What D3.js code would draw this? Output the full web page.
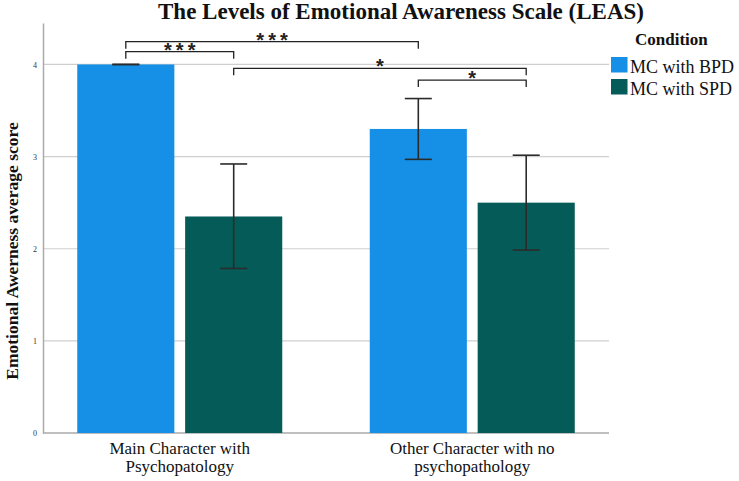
<!DOCTYPE html>
<html><head><meta charset="utf-8">
<script src="https://cdn.jsdelivr.net/npm/d3@7"></script>
<style>body{margin:0;background:#fff}svg{display:block}</style>
</head><body>
<svg id="c" width="739" height="481"></svg>
<script>
const groups = ["Main Character with|Psychopatology", "Other Character with no|psychopathology"];
const conditions = ["MC with BPD", "MC with SPD"];
const colors = ["#1590e6", "#045b58"];
const means = [[4.00, 2.35], [3.30, 2.50]];
const errLow = [[4.00, 1.786], [2.97, 1.985]];
const errHigh = [[4.00, 2.92], [3.63, 3.015]];
const yTicks = [0, 1, 2, 3, 4];
// significance brackets: [groupIdx, condIdx] from -> to, level (value), label
const sigFrom = [[0,0],[0,0],[0,1],[1,0]];
const sigTo   = [[1,0],[0,1],[1,1],[1,1]];
const sigLevel = [4.247, 4.139, 3.958, 3.83];
const sigLabel = ["***", "***", "*", "*"];

const svg = d3.select("#c");
const L = 43, R = 609, T = 23, B = 433;
const y = d3.scaleLinear().domain([0, 4.45]).range([B, T]);
const gx = d3.scalePoint().domain(d3.range(groups.length)).range([L, R]).padding(0.4675);
const bx = d3.scaleBand().domain(d3.range(conditions.length)).range([-102.5, 102.5]).paddingInner(0.1);
const serif = "'Times New Roman', 'Liberation Serif', Tinos, 'DejaVu Serif', serif";

// gridlines
svg.append("g").selectAll("line").data(yTicks.filter(d => d > 0)).join("line")
  .attr("x1", L).attr("x2", R).attr("y1", d => y(d)).attr("y2", d => y(d))
  .attr("stroke", "#cfcfcf").attr("stroke-width", 1.2);

// axes
const ya = svg.append("g").attr("transform", `translate(${L},0)`)
  .call(d3.axisLeft(y).tickValues(yTicks).tickSize(0).tickPadding(6).tickFormat(d3.format("d")));
ya.select(".domain").attr("stroke", "#aaa").attr("stroke-width", 1.5);
ya.selectAll("text").style("font-family", serif).attr("font-size", 8).attr("fill", "#333");
svg.append("line").attr("x1", L).attr("x2", R).attr("y1", y(0)).attr("y2", y(0))
  .attr("stroke", "#aaa").attr("stroke-width", 1.5);

// bars
const rows = [];
groups.forEach((g, gi) => conditions.forEach((c, ci) => rows.push({gi, ci})));
svg.append("g").selectAll("rect").data(rows).join("rect")
  .attr("x", d => gx(d.gi) + bx(d.ci)).attr("width", bx.bandwidth())
  .attr("y", d => y(means[d.gi][d.ci])).attr("height", d => y(0) - y(means[d.gi][d.ci]))
  .attr("fill", d => colors[d.ci]);

// error bars
const eg = svg.append("g").attr("stroke", "#2b2b2b").attr("stroke-width", 1.6);
rows.forEach(d => {
  const cx = gx(d.gi) + bx(d.ci) + bx.bandwidth() / 2;
  const lo = y(errLow[d.gi][d.ci]), hi = y(errHigh[d.gi][d.ci]);
  eg.append("line").attr("x1", cx).attr("x2", cx).attr("y1", lo).attr("y2", hi);
  eg.append("line").attr("x1", cx - 13.5).attr("x2", cx + 13.5).attr("y1", lo).attr("y2", lo);
  eg.append("line").attr("x1", cx - 13.5).attr("x2", cx + 13.5).attr("y1", hi).attr("y2", hi);
});

// significance brackets
const sg = svg.append("g");
sigLabel.forEach((lab, i) => {
  const x1 = gx(sigFrom[i][0]) + bx(sigFrom[i][1]) + bx.bandwidth() / 2;
  const x2 = gx(sigTo[i][0]) + bx(sigTo[i][1]) + bx.bandwidth() / 2;
  const yy = y(sigLevel[i]);
  sg.append("path").attr("d", `M${x1},${yy + 7}V${yy}H${x2}V${yy + 7}`)
    .attr("fill", "none").attr("stroke", "#222").attr("stroke-width", 1.3);
  sg.append("text").attr("x", (x1 + x2) / 2 + (lab.length > 1 ? 2 : 0)).attr("y", yy + 5)
    .attr("text-anchor", "middle")
    .style("font-family", "'Liberation Sans',Arial,sans-serif").attr("font-size", 20)
    .attr("font-weight", "bold")
    .style("letter-spacing", lab.length > 1 ? "4px" : "0px")
    .attr("fill", "#222").text(lab);
});

// title
svg.append("text").attr("x", 401).attr("y", 19).attr("text-anchor", "middle")
  .style("font-family", serif).attr("font-weight", "bold").attr("font-size", 23).attr("fill", "#111")
  .text("The Levels of Emotional Awareness Scale (LEAS)");

// y label
svg.append("text").attr("transform", `translate(18,251) rotate(-90)`).attr("text-anchor", "middle")
  .style("font-family", serif).attr("font-weight", "bold").attr("font-size", 17.5).attr("fill", "#111")
  .text("Emotional Awerness average score");

// x labels
groups.forEach((g, gi) => {
  g.split("|").forEach((ln, k) => svg.append("text").attr("text-anchor", "middle")
    .style("font-family", serif).attr("font-size", 17).attr("fill", "#111")
    .attr("x", gx(gi)).attr("y", 454 + k * 18).text(ln));
});

// legend
svg.append("text").attr("x", 635).attr("y", 45).style("font-family", serif).attr("font-weight", "bold")
  .attr("font-size", 17).attr("fill", "#111").text("Condition");
conditions.forEach((c, i) => {
  svg.append("rect").attr("x", 611).attr("y", 57 + i * 22).attr("width", 16.5).attr("height", 15.5).attr("fill", colors[i]);
  svg.append("text").attr("x", 630).attr("y", 72.5 + i * 22).style("font-family", serif)
    .attr("font-size", 18).attr("fill", "#111").text(c);
});
</script>
</body></html>
